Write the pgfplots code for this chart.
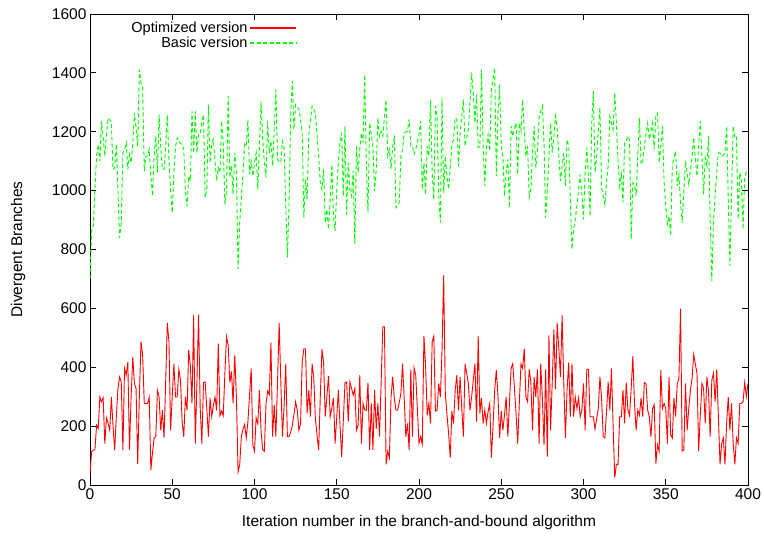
\documentclass[border=0pt]{standalone}
\usepackage{pgfplots}
\pgfplotsset{compat=1.18}
\usepackage{pgfplotstable}
\usepackage{fontspec}
\setmainfont{Liberation Sans}
\definecolor{gpred}{RGB}{255,0,0}
\definecolor{gpgreen}{RGB}{0,255,0}
\pgfplotstableread{
y
700
869
880
1005
1117
1157
1100
1236
1180
1117
1190
1247
1240
1230
1072
1078
1157
1000
840
891
1128
1140
1163
1072
1123
1095
1157
1264
1214
1151
1411
1366
1349
1067
1117
1117
1140
1050
982
1117
1185
1061
1258
1150
1072
1072
1150
1258
1106
1000
925
1061
1150
1180
1170
1160
1157
1140
1000
947
1049
1033
1270
1128
1270
1128
1196
1196
1230
1258
976
1004
1292
1095
1163
1174
1100
1033
1078
1061
1236
1163
953
1004
1321
1044
1084
988
1128
1061
733
891
970
1060
1157
1151
1242
1055
1100
1049
1095
1128
1004
1150
1304
1174
1095
1044
1236
1128
1168
1084
1208
1343
1106
1100
1095
1168
1146
950
773
959
1258
1372
1208
1292
1285
1276
1240
1196
908
1038
970
1190
1240
1287
1276
1264
1190
1117
1027
1004
1072
891
936
869
970
1089
913
863
1004
1100
1163
1196
982
1219
919
1095
1004
982
1067
818
1151
1061
1140
1196
1163
1394
1084
925
1230
1190
1151
998
1072
1247
1185
1202
1185
1250
1309
1117
1140
1072
1151
1180
942
950
959
1117
1140
1196
1200
1202
1242
1151
1151
1123
1140
1163
1191
1236
1004
1095
987
1151
1117
1309
1061
970
1287
1247
982
891
1315
993
1117
1049
1004
1080
1157
1174
1247
1242
1084
1196
1250
1309
1151
1180
1208
1300
1400
1332
1230
1326
1146
1151
1411
1151
1016
1146
1191
1134
1343
1380
1417
1049
1258
1360
1151
1117
982
1061
1106
942
1219
1185
1210
1230
1055
1230
1202
1309
1200
1117
1151
976
1004
1128
1219
1078
1128
1247
1270
1287
1163
908
1000
1117
1230
1128
1185
1253
1214
1117
1033
1084
1128
1016
1174
1151
970
801
869
902
950
1004
1055
993
902
1061
1146
1049
913
1230
1338
1061
1117
1200
1281
1010
980
953
1027
1084
1253
1230
1208
1332
1230
1100
1016
1055
959
1163
1170
1185
1174
835
1027
1021
982
1117
1247
1089
1100
1150
1191
1230
1174
1200
1230
1140
1258
1264
1095
1150
1219
1027
950
886
913
846
1089
1110
1134
1016
1055
960
891
1000
1100
1060
1021
1070
1117
1180
1110
1049
1151
1236
1117
987
1112
1084
1185
902
693
891
982
1060
1128
1128
1117
1120
1128
1219
970
744
982
1219
1180
1185
902
1061
1038
869
1049
1061
1070
}\basic
\pgfplotstableread{
y
40
113
119
120
203
192
299
283
296
141
228
210
186
299
200
119
230
328
367
350
119
396
373
418
119
300
435
345
328
71
300
488
441
277
277
277
298
51
110
160
164
322
299
186
254
160
350
551
486
186
300
412
299
299
393
356
215
164
299
254
458
407
277
576
141
350
579
260
141
348
350
260
164
296
232
271
299
254
480
235
251
235
380
503
475
348
386
277
441
299
45
68
164
190
206
160
215
305
396
136
115
228
209
322
181
119
115
277
319
307
484
164
273
164
350
551
350
164
271
412
164
164
180
203
240
283
254
186
209
418
463
463
243
322
232
412
367
226
170
119
300
461
418
232
300
371
232
260
296
141
230
322
200
96
220
348
350
215
350
328
305
328
186
203
373
141
277
254
254
348
119
277
119
322
190
277
164
350
537
537
70
115
93
299
367
296
254
254
280
311
412
294
164
209
119
393
164
398
373
260
141
164
138
506
407
237
277
209
486
506
251
254
345
299
458
712
311
240
175
93
251
209
322
373
254
367
260
164
412
380
345
254
300
356
412
215
506
243
296
209
254
209
249
277
93
200
322
390
305
160
251
186
240
299
164
280
396
412
330
243
141
280
412
396
463
299
283
393
350
186
367
299
393
141
412
294
136
393
96
508
186
350
529
325
551
463
367
576
350
160
322
416
232
412
232
299
260
296
232
254
345
186
393
393
232
232
232
190
225
260
367
294
164
160
250
350
254
396
200
25
70
70
232
232
322
209
348
254
235
330
438
277
186
254
237
296
232
348
345
254
232
164
260
273
73
136
115
390
260
277
260
141
367
170
160
296
232
345
362
599
115
119
345
186
260
322
362
443
410
379
115
237
345
328
209
367
319
164
356
379
283
393
232
70
141
160
70
209
299
186
277
141
70
160
141
277
277
283
348
300
345
}\optimized
\begin{document}
\begin{tikzpicture}
\useasboundingbox (-90pt,-51pt) rectangle (674pt,485pt);
\begin{axis}[
  scale only axis,
  width=658pt, height=471pt,
  xmin=0, xmax=400, ymin=0, ymax=1600,
  xtick={0,50,...,400},
  ytick={0,200,...,1600},
  minor tick num=0,
  tick align=inside,
  major tick length=6pt,
  axis line style={line width=0.9pt, black},
  every tick/.style={black, line width=0.8pt},
  /pgf/number format/assume math mode=true,
  /pgf/number format/set thousands separator={},
  tick label style={font=\fontsize{15.5}{18}\selectfont},
  label style={font=\fontsize{15.5}{18}\selectfont},
  xlabel={Iteration number in the branch-and-bound algorithm},
  ylabel={Divergent Branches},
  xlabel style={at={(axis description cs:0.5,0)}, anchor=center, yshift=-37pt},
  ylabel style={at={(axis description cs:-0.1094,0.5)}, anchor=center},
  legend style={draw=none, fill=none, at={(0.319,0.992)}, anchor=north east,
    font=\fontsize{14.5}{16}\selectfont, row sep=-1pt},
  legend cell align=right,
  legend plot pos=right,
]
\addplot[color=gpred, line width=0.9pt, mark=none,
  legend image code/.code={\draw[draw=gpred, line width=1.2pt] (0pt,0pt) -- (46pt,0pt);}]
  table[x expr=\coordindex, y index=0] {\optimized};
\addlegendentry{Optimized version}
\addplot[color=gpgreen, line width=0.9pt, mark=none, dash pattern=on 4pt off 2.5pt,
  legend image code/.code={\draw[draw=gpgreen, line width=1.2pt, dash pattern=on 4pt off 2.5pt] (0pt,0pt) -- (46pt,0pt);}]
  table[x expr=\coordindex, y index=0] {\basic};
\addlegendentry{Basic version}
\end{axis}
\end{tikzpicture}
\end{document}
